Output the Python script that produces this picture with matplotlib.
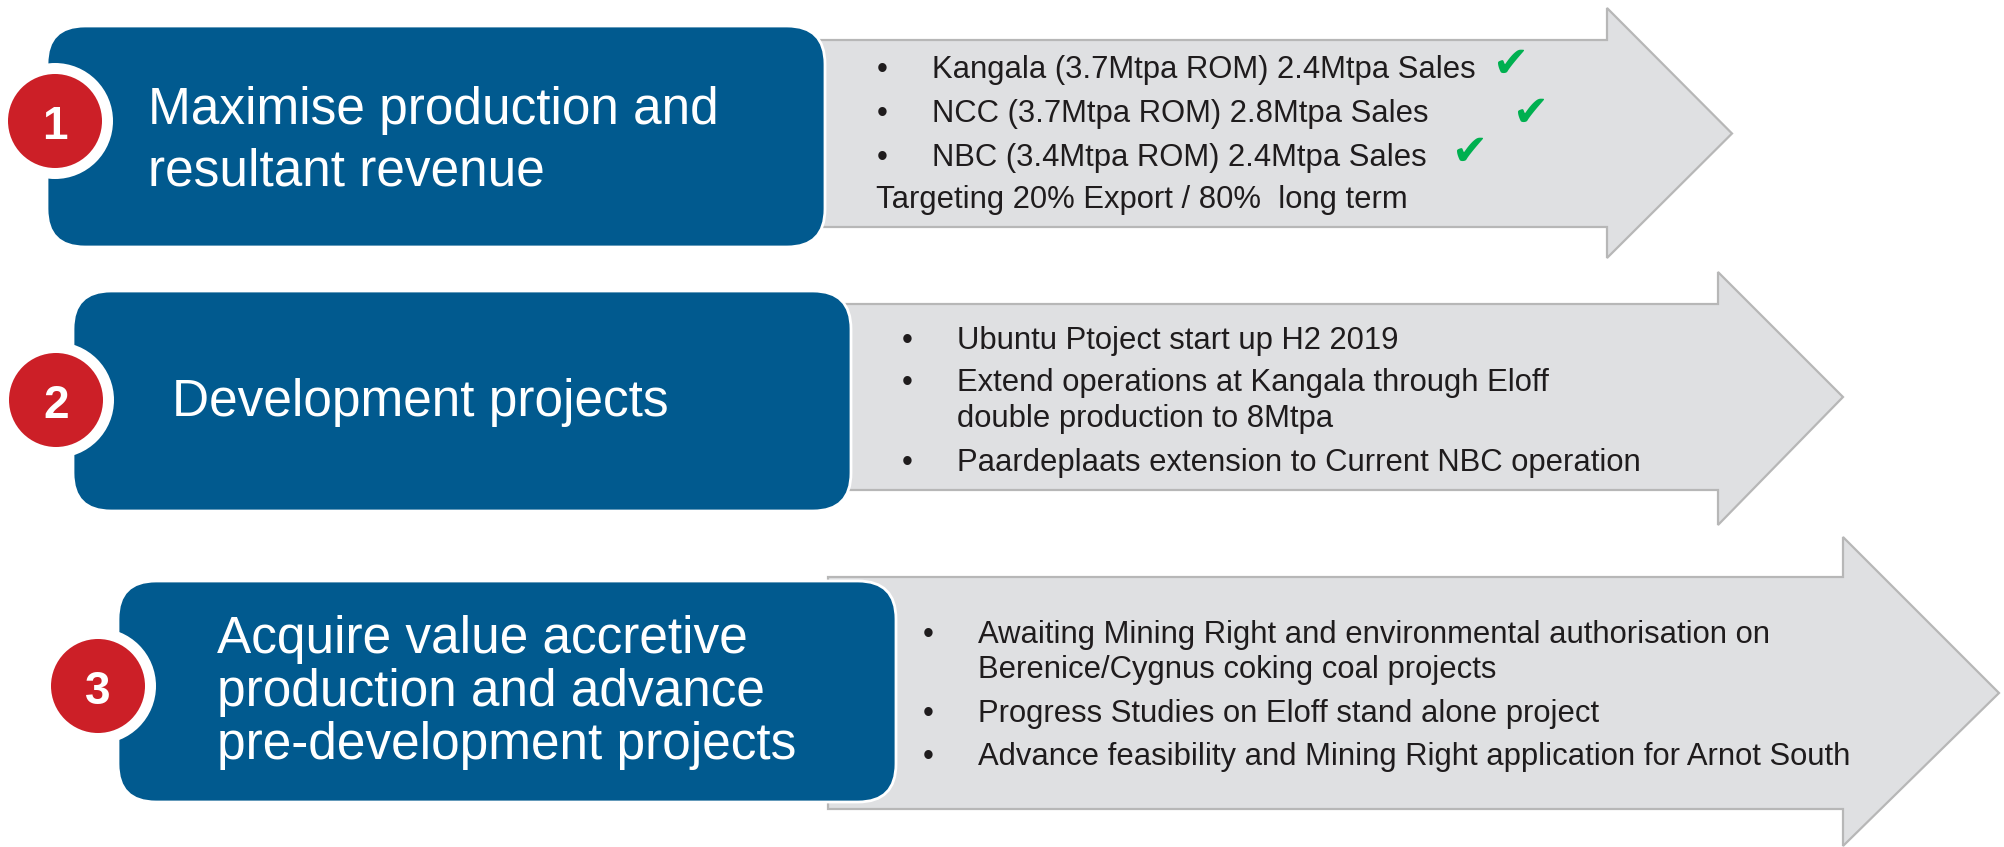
import matplotlib
matplotlib.use("Agg")
import matplotlib.pyplot as plt
from matplotlib.patches import FancyBboxPatch, Polygon, Circle

# ---------------- content ----------------
numbers = ["1", "2", "3"]
titles = [
    ["Maximise production and", "resultant revenue"],
    ["Development projects"],
    ["Acquire value accretive", "production and advance", "pre-development projects"],
]
row1_bullets = ["Kangala (3.7Mtpa ROM) 2.4Mtpa Sales",
                "NCC (3.7Mtpa ROM) 2.8Mtpa Sales",
                "NBC (3.4Mtpa ROM) 2.4Mtpa Sales"]
row1_note = "Targeting 20% Export / 80%  long term"
row2_bullets = ["Ubuntu Ptoject start up H2 2019",
                "Extend operations at Kangala through Eloff\ndouble production to 8Mtpa",
                "Paardeplaats extension to Current NBC operation"]
row3_bullets = ["Awaiting Mining Right and environmental authorisation on\nBerenice/Cygnus coking coal projects",
                "Progress Studies on Eloff stand alone project",
                "Advance feasibility and Mining Right application for Arnot South"]
check = "\u2714"

# ---------------- style ----------------
BLUE = "#015A8F"
RED = "#CC1F27"
GRAY = "#DFE0E2"
GRAY_EDGE = "#B7B7B7"
DARK = "#1F1C1D"
GREEN = "#00B050"
FONT = "Liberation Sans"

W, H = 2004, 847
fig = plt.figure(figsize=(W / 100, H / 100), dpi=100)
ax = fig.add_axes([0, 0, 1, 1])
ax.set_xlim(0, W)
ax.set_ylim(H, 0)
ax.axis("off")

# layout per row (pixel units)
rows = [
    dict(box=(47, 26, 778, 221), circ=(55, 121), arrow=(800, 40, 227, 1607, 8, 258, 1732),
         title_x=148, title_y=[124, 185]),
    dict(box=(73, 291, 778, 220), circ=(56, 400), arrow=(830, 304, 490, 1718, 272, 525, 1843),
         title_x=172, title_y=[416]),
    dict(box=(118, 581, 778, 221), circ=(98, 686), arrow=(828, 577, 809, 1843, 537, 846, 1999),
         title_x=217, title_y=[653, 706, 759]),
]

for i, r in enumerate(rows):
    left, btop, bbot, hx, htop, hbot, tip = r["arrow"]
    tipy = (btop + bbot) / 2
    pts = [(left, btop), (hx, btop), (hx, htop), (tip, tipy),
           (hx, hbot), (hx, bbot), (left, bbot)]
    ax.add_patch(Polygon(pts, closed=True, facecolor=GRAY, edgecolor=GRAY_EDGE,
                         linewidth=1.6, zorder=1, joinstyle="miter"))
    x, y, w, h = r["box"]
    ax.add_patch(FancyBboxPatch((x, y), w, h,
                                boxstyle="round,pad=0,rounding_size=38",
                                facecolor=BLUE, edgecolor="white", linewidth=2.0, zorder=2))
    cx, cy = r["circ"]
    ax.add_patch(Circle((cx, cy), 58, facecolor="white", edgecolor="none", zorder=3))
    ax.add_patch(Circle((cx, cy), 47, facecolor=RED, edgecolor="none", zorder=4))
    ax.text(cx, cy + 18, numbers[i], color="white", fontsize=33, fontweight="bold",
            family=FONT, ha="center", va="baseline", zorder=5)
    for line, ty in zip(titles[i], r["title_y"]):
        ax.text(r["title_x"], ty, line, color="white", fontsize=37, family=FONT,
                ha="left", va="baseline", zorder=5)

# ---- row 1 bullets ----
FS = 22.3
r1_y = [78, 122, 166]
for t, y in zip(row1_bullets, r1_y):
    ax.text(882, y, "\u2022", color=DARK, fontsize=FS, family=FONT, ha="center", va="baseline", zorder=6)
    ax.text(932, y, t, color=DARK, fontsize=FS, family=FONT, ha="left", va="baseline", zorder=6)
ax.text(876, 208, row1_note, color=DARK, fontsize=FS, family=FONT, ha="left", va="baseline", zorder=6)
for (cx, cy) in [(1510, 65), (1530, 114), (1469, 153)]:
    ax.text(cx, cy, check, color=GREEN, fontsize=31, family="DejaVu Sans",
            ha="center", va="center", zorder=6)

# ---- row 2 bullets ----
r2_lines = [(row2_bullets[0], [349]), (row2_bullets[1], [391, 427]), (row2_bullets[2], [471])]
for t, ys in r2_lines:
    ax.text(907, ys[0], "\u2022", color=DARK, fontsize=FS, family=FONT, ha="center", va="baseline", zorder=6)
    for part, y in zip(t.split("\n"), ys):
        ax.text(957, y, part, color=DARK, fontsize=FS, family=FONT, ha="left", va="baseline", zorder=6)

# ---- row 3 bullets ----
r3_lines = [(row3_bullets[0], [643, 678]), (row3_bullets[1], [722]), (row3_bullets[2], [765])]
for t, ys in r3_lines:
    ax.text(928, ys[0], "\u2022", color=DARK, fontsize=FS, family=FONT, ha="center", va="baseline", zorder=6)
    for part, y in zip(t.split("\n"), ys):
        ax.text(978, y, part, color=DARK, fontsize=FS, family=FONT, ha="left", va="baseline", zorder=6)

fig.savefig("out.png", dpi=100, facecolor="white")
